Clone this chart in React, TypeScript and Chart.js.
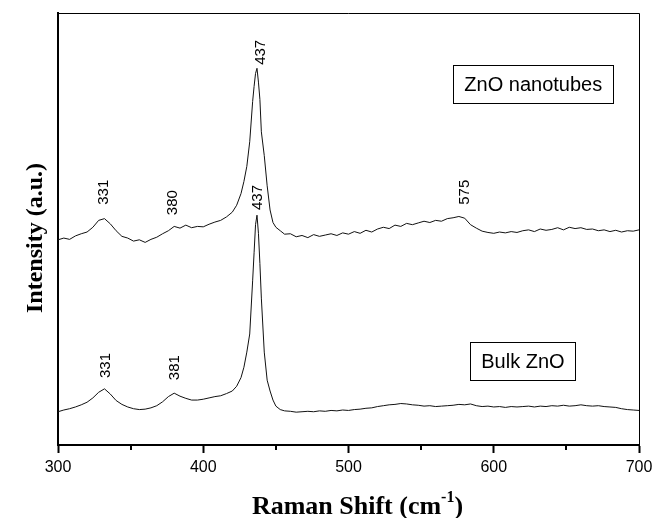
import React, { useEffect, useRef } from "react";
import { Chart, registerables } from "chart.js";

Chart.register(...registerables);

// Raman shift positions (cm^-1)
const ramanShift = [
  300, 304, 308, 312, 316, 320, 324, 328, 332, 336, 340, 344, 348, 352, 356, 360,
  364, 368, 372, 376, 380, 384, 388, 392, 396, 400, 404, 408, 412, 416, 420,
  423, 426, 428, 430, 432, 434, 435, 436, 437, 438, 439, 440, 442, 444, 446, 448, 450, 453, 456,
  460, 464, 468, 472, 476, 480, 484, 488, 492, 496, 500, 504, 508, 512, 516, 520,
  524, 528, 532, 536, 540, 544, 548, 552, 556, 560, 564, 568, 572, 576, 580, 584,
  588, 592, 596, 600, 604, 608, 612, 616, 620, 624, 628, 632, 636, 640, 644, 648,
  652, 656, 660, 664, 668, 672, 676, 680, 684, 688, 692, 696, 700,
];

// ZnO nanotubes spectrum (offset, a.u.)
const nanotubeIntensity = [
  47.5, 47.9, 47.6, 48.4, 48.9, 49.3, 50.4, 52.0, 52.4, 51.2, 49.6, 48.3, 47.9, 47.2, 47.5, 46.9,
  47.6, 48.1, 48.9, 49.6, 50.6, 50.2, 50.9, 50.3, 50.6, 50.5, 51.1, 51.6, 52.0, 52.8, 53.9,
  55.5, 58.2, 61.0, 64.5, 70.2, 79.5, 83.0, 86.0, 87.2, 84.0, 80.0, 72.5, 67.0, 60.0, 54.4, 51.5, 50.4, 49.6, 48.8,
  48.9, 48.2, 48.5, 48.0, 48.7, 48.3, 48.6, 48.9, 48.5, 49.1, 48.8, 49.4, 49.0, 49.7, 49.3, 50.0,
  50.4, 50.1, 50.9, 50.6, 51.3, 51.0, 51.4, 51.8, 51.5, 52.0, 51.8, 52.4, 52.6, 52.9, 52.5, 51.0,
  50.2, 49.5, 49.2, 49.0, 49.3, 49.1, 49.4, 49.2, 49.6, 49.8, 49.4, 50.0, 49.7, 49.9, 50.3, 49.8,
  50.4, 50.1, 50.3, 49.9, 50.0, 49.6, 49.8, 49.4, 49.7, 49.3, 49.6, 49.5, 49.8,
];

// Bulk ZnO spectrum (a.u.)
const bulkIntensity = [
  7.7, 8.1, 8.4, 8.8, 9.3, 9.9, 10.9, 12.2, 13.0, 11.8, 10.3, 9.4, 8.8, 8.4, 8.2, 8.3,
  8.6, 9.1, 10.0, 11.2, 12.0, 11.3, 10.8, 10.4, 10.4, 10.6, 10.9, 11.2, 11.4, 11.9, 12.5,
  13.6, 15.6, 18.0, 21.5, 25.7, 38.0, 44.5, 51.0, 53.2, 49.0, 42.0, 34.0, 21.5, 15.0, 12.5, 10.4, 9.0, 8.2, 7.9,
  7.8, 7.6, 7.7, 7.8, 7.7, 7.9, 7.8, 8.0, 7.9, 8.1, 8.0, 8.2, 8.3, 8.5, 8.6, 8.9,
  9.1, 9.3, 9.4, 9.6, 9.5, 9.3, 9.2, 9.0, 9.1, 8.9, 9.0, 9.1, 9.2, 9.4, 9.3, 9.5,
  9.1, 8.9, 9.0, 8.8, 8.9, 8.7, 8.9, 8.8, 8.9, 9.0, 8.8, 9.0, 8.9, 9.1, 9.0, 9.2,
  9.0, 9.1, 9.3, 9.1, 9.0, 9.1, 8.9, 8.8, 8.7, 8.4, 8.2, 8.1, 8.0,
];

const xMajorStep = 100;
const xMinorTicks = [350, 450, 550, 650];

// Peak annotations (text, anchor in data units)
const peakTexts = ["331", "380", "437", "575", "331", "381", "437"];
const peakX = [331.5, 378.8, 439.6, 580.2, 333, 380.6, 437.7];
const peakY = [55.6, 53.2, 88.0, 55.6, 15.5, 15.0, 54.4];

// Sample labels
const sampleTexts = ["ZnO nanotubes", "Bulk ZnO"];
const sampleX = [627.2, 620.1];
const sampleY = [83.5, 19.4];

const yTitle = "Intensity (a.u.)";
const xTitleMain = "Raman Shift (cm";
const xTitleSup = "-1";
const xTitleEnd = ")";

const decorPlugin = {
  id: "decor",
  afterDraw(chart: any) {
    const { ctx, chartArea: a, scales } = chart;
    const xs = scales.x;
    const ys = scales.y;
    ctx.save();
    // top and right frame
    ctx.strokeStyle = "#000";
    ctx.lineWidth = 1;
    ctx.beginPath();
    ctx.moveTo(a.left, a.top + 0.5);
    ctx.lineTo(a.right + 0.5, a.top + 0.5);
    ctx.lineTo(a.right + 0.5, a.bottom);
    ctx.stroke();
    // minor ticks
    ctx.lineWidth = 2;
    ctx.beginPath();
    for (const v of xMinorTicks) {
      const px = Math.round(xs.getPixelForValue(v));
      ctx.moveTo(px, a.bottom);
      ctx.lineTo(px, a.bottom + 5);
    }
    ctx.stroke();
    // peak labels
    ctx.fillStyle = "#000";
    ctx.font = '15px "Liberation Sans", Arial, sans-serif';
    ctx.textAlign = "left";
    ctx.textBaseline = "middle";
    peakTexts.forEach((t, i) => {
      const px = xs.getPixelForValue(peakX[i]);
      const py = ys.getPixelForValue(peakY[i]);
      ctx.save();
      ctx.translate(px, py);
      ctx.rotate(-Math.PI / 2);
      ctx.fillText(t, 0, 0);
      ctx.restore();
    });
    // sample boxes
    ctx.font = '20px "Liberation Sans", Arial, sans-serif';
    ctx.textAlign = "center";
    ctx.textBaseline = "middle";
    ctx.lineWidth = 1;
    sampleTexts.forEach((t, i) => {
      const px = xs.getPixelForValue(sampleX[i]);
      const py = ys.getPixelForValue(sampleY[i]);
      const w = ctx.measureText(t).width + 22;
      const h = 38;
      ctx.strokeRect(Math.round(px - w / 2) + 0.5, Math.round(py - h / 2) + 0.5, Math.round(w), h);
      ctx.fillText(t, px, py + 1);
    });
    // y-axis title
    ctx.font = 'bold 24px "Liberation Serif", "Times New Roman", serif';
    ctx.textAlign = "center";
    ctx.textBaseline = "middle";
    ctx.save();
    ctx.translate(36, 238);
    ctx.rotate(-Math.PI / 2);
    ctx.fillText(yTitle, 0, 0);
    ctx.restore();
    // x-axis title with superscript
    const bigFont = 'bold 26px "Liberation Serif", "Times New Roman", serif';
    const smallFont = 'bold 16px "Liberation Serif", "Times New Roman", serif';
    ctx.textAlign = "left";
    ctx.textBaseline = "alphabetic";
    ctx.font = bigFont;
    const wMain = ctx.measureText(xTitleMain).width;
    const wClose = ctx.measureText(xTitleEnd).width;
    ctx.font = smallFont;
    const wSup = ctx.measureText(xTitleSup).width;
    const total = wMain + wSup + wClose;
    const cx = (a.left + a.right) / 2 + 9;
    const base = 514;
    let x0 = cx - total / 2;
    ctx.font = bigFont;
    ctx.fillText(xTitleMain, x0, base);
    x0 += wMain;
    ctx.font = smallFont;
    ctx.fillText(xTitleSup, x0, base - 12);
    x0 += wSup;
    ctx.font = bigFont;
    ctx.fillText(xTitleEnd, x0, base);
    ctx.restore();
  },
};

export default function App() {
  const canvasRef = useRef<HTMLCanvasElement | null>(null);

  useEffect(() => {
    const canvas = canvasRef.current;
    if (!canvas) return;
    const chart = new Chart(canvas, {
      type: "line",
      data: {
        datasets: [
          {
            label: "ZnO nanotubes",
            data: ramanShift.map((x, i) => ({ x, y: nanotubeIntensity[i] })),
            borderColor: "#111",
            borderWidth: 1,
            pointRadius: 0,
            tension: 0,
            fill: false,
          },
          {
            label: "Bulk ZnO",
            data: ramanShift.map((x, i) => ({ x, y: bulkIntensity[i] })),
            borderColor: "#111",
            borderWidth: 1,
            pointRadius: 0,
            tension: 0,
            fill: false,
          },
        ],
      },
      options: {
        animation: false,
        responsive: false,
        devicePixelRatio: 1,
        layout: { padding: { left: 0, right: 13, top: 13, bottom: 0 } },
        plugins: {
          legend: { display: false },
          tooltip: { enabled: false },
        },
        scales: {
          x: {
            type: "linear",
            min: 300,
            max: 700,
            afterFit: (s: any) => {
              s.height = 73;
              s.paddingLeft = 0;
              s.paddingRight = 0;
            },
            ticks: {
              stepSize: xMajorStep,
              color: "#000",
              padding: 5,
              font: { family: '"Liberation Sans", Arial, sans-serif', size: 16 },
            },
            grid: {
              display: true,
              drawOnChartArea: false,
              drawTicks: true,
              tickLength: 8,
              tickWidth: 2,
              tickColor: "#000",
            },
            border: { display: true, color: "#000", width: 2 },
          },
          y: {
            type: "linear",
            min: 0,
            max: 100,
            afterFit: (s: any) => {
              s.width = 58;
              s.paddingTop = 0;
              s.paddingBottom = 0;
            },
            ticks: { display: false },
            grid: { display: false },
            border: { display: true, color: "#000", width: 2 },
            title: { display: false },
          },
        },
      },
      plugins: [decorPlugin],
    });
    return () => chart.destroy();
  }, []);

  return (
    <div style={{ position: "fixed", left: 0, top: 0, width: 652, height: 518, background: "#fff" }}>
      <canvas ref={canvasRef} width={652} height={518} />
    </div>
  );
}
